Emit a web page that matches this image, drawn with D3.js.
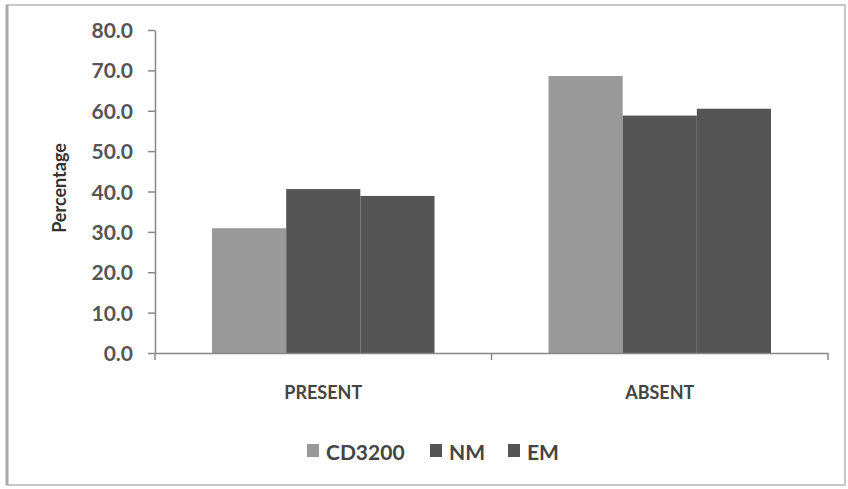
<!DOCTYPE html>
<html><head><meta charset="utf-8">
<script src="https://cdn.jsdelivr.net/npm/d3@7"></script>
<style>body{margin:0;background:#fff}svg{display:block}text{font-family:Lato,"Open Sans",sans-serif}</style>
</head><body>
<svg id="c" width="848" height="489"></svg>
<script>
const categories = ["PRESENT", "ABSENT"];
const seriesNames = ["CD3200", "NM", "EM"];
const CD3200 = [30.9, 68.6];
const NM = [40.6, 58.8];
const EM = [38.9, 60.5];
const yTicks = [0, 10, 20, 30, 40, 50, 60, 70, 80];
const colors = ["#999999", "#555555", "#555555"];
const seriesValues = [CD3200, NM, EM];

const svg = d3.select("#c");
// frame
svg.append("rect").attr("x", 7).attr("y", 5).attr("width", 838).attr("height", 480)
  .attr("fill", "#fff").attr("stroke", "#c8c8c8").attr("stroke-width", 2);
svg.append("line").attr("x1", 7).attr("x2", 7).attr("y1", 5).attr("y2", 485)
  .attr("stroke", "#aaa").attr("stroke-width", 3);

const x0 = d3.scaleBand().domain(categories).range([155, 828]).paddingInner(0).paddingOuter(0);
const x1 = d3.scaleBand().domain(seriesNames).range([57, x0.bandwidth() - 57]).padding(0);
const y = d3.scaleLinear().domain([0, 80]).range([353, 30]);

const g = svg.append("g");
categories.forEach((c, ci) => {
  seriesNames.forEach((s, si) => {
    const v = seriesValues[si][ci];
    g.append("rect")
      .attr("x", x0(c) + x1(s))
      .attr("y", y(v))
      .attr("width", x1.bandwidth())
      .attr("height", y(0) - y(v))
      .attr("fill", colors[si]);
  });
});

// y axis
const yAxis = svg.append("g").attr("transform", "translate(155,0)")
  .call(d3.axisLeft(y).tickValues(yTicks).tickFormat(d3.format(".1f")).tickSize(7).tickSizeOuter(0));
yAxis.select(".domain").attr("stroke", "#888").attr("stroke-width", 1.5);
yAxis.selectAll(".tick line").attr("stroke", "#888").attr("stroke-width", 1.5);
yAxis.selectAll(".tick text").attr("x", -22).attr("dy", "0.36em").attr("fill", "#555").attr("font-size", 21)
  .attr("font-weight", "bold").style("font-family", "Lato, 'Open Sans', sans-serif");

// x axis
const xAxis = svg.append("g").attr("transform", "translate(0,353)")
  .call(d3.axisBottom(x0).tickSize(0).tickSizeOuter(0));
xAxis.select(".domain").attr("stroke", "#888").attr("stroke-width", 1.5);
xAxis.selectAll(".tick text").attr("dy", 0).attr("y", 46).attr("fill", "#444")
  .attr("font-size", 18).attr("font-weight", "bold").style("font-family", "Lato, 'Open Sans', sans-serif");
// category boundary ticks
[155, 828].concat([x0("ABSENT")]).forEach(px => {
  svg.append("line").attr("x1", px).attr("x2", px).attr("y1", 353).attr("y2", 360)
    .attr("stroke", "#888").attr("stroke-width", 1.5);
});

// y label
svg.append("text").attr("transform", "translate(66,188) rotate(-90)")
  .attr("text-anchor", "middle").attr("font-size", 18).attr("font-weight", "bold")
  .attr("fill", "#333").text("Percentage");

// legend
const legendX = [307, 430, 508];
seriesNames.forEach((s, i) => {
  svg.append("rect").attr("x", legendX[i]).attr("y", 444).attr("width", 12).attr("height", 13)
    .attr("fill", colors[i]);
  svg.append("text").attr("x", legendX[i] + 19).attr("y", 460).attr("font-size", 21)
    .attr("font-weight", "bold").attr("fill", "#444").text(s);
});
</script>
</body></html>
